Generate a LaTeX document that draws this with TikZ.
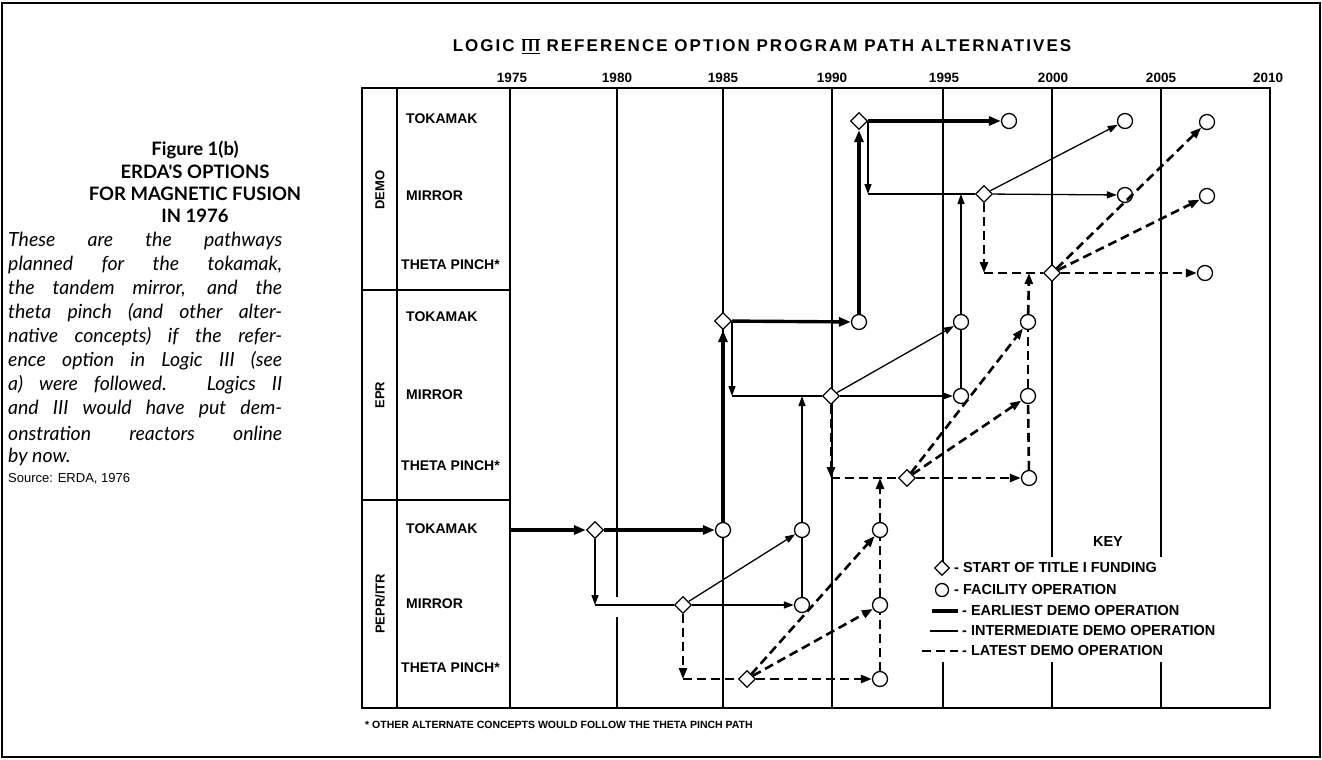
\documentclass[tikz,border=0pt]{standalone}
\usepackage{fontspec}
\setmainfont{Liberation Sans}
\newfontfamily\capfont{Lato}
\newfontfamily\titlefont[LetterSpace=12]{Liberation Sans}
\usetikzlibrary{arrows.meta,shapes.geometric}
\begin{document}
\begin{tikzpicture}[x=1pt,y=-1pt,
  gridline/.style={line width=1.1pt},
  boxline/.style={line width=2pt},
  rowlab/.style={font=\fontsize{14}{16}\selectfont\bfseries, anchor=west, inner sep=0},
  grplab/.style={font=\fontsize{13}{15}\selectfont\bfseries, rotate=90, inner sep=0},
  yrlab/.style={font=\fontsize{13.5}{15}\selectfont\bfseries, inner sep=0},
  keylab/.style={font=\fontsize{14.5}{16}\selectfont\bfseries, anchor=west, inner sep=0},
  dia/.style={diamond, draw, fill=white, line width=1.3pt, minimum width=17pt, minimum height=17pt, inner sep=0},
  circ/.style={circle, draw, fill=white, line width=1.3pt, minimum size=15pt, inner sep=0},
  early/.style={line width=3.4pt},
  inter/.style={line width=1.3pt},
  late/.style={line width=2.6pt, dash pattern=on 9pt off 5pt},
  tipE/.style={-{Triangle[length=12pt,width=9pt]}},
  tipI/.style={-{Triangle[length=10pt,width=7pt]}},
  tipL/.style={-{Triangle[length=11pt,width=8pt]}},
  caphead/.style={font=\capfont\fontsize{18.5}{22}\selectfont\bfseries, inner sep=0},
  capline/.style={font=\capfont\fontsize{19.5}{22}\selectfont\itshape, anchor=west, inner sep=0},
]
\useasboundingbox (0,0) rectangle (1322,760);
\draw[line width=1.5pt] (2,3) rectangle (1320,757);

% ---------- caption ----------
\node[caphead] (c1) at (195,150) {Figure 1(b)};
\node[caphead] (c2) at (195,172) {ERDA'S OPTIONS};
\node[caphead] (c3) at (195,194) {FOR MAGNETIC FUSION};
\node[caphead] (c4) at (195,216) {IN 1976};
\node[capline] (t1) at (8,241) {\makebox[274pt][s]{These are the pathways}};
\node[capline] (t2) at (8,265) {\makebox[274pt][s]{planned for the tokamak,}};
\node[capline] (t3) at (8,289) {\makebox[274pt][s]{the tandem mirror, and the}};
\node[capline] (t4) at (8,313) {\makebox[274pt][s]{theta pinch (and other alter-}};
\node[capline] (t5) at (8,337) {\makebox[274pt][s]{native concepts) if the refer-}};
\node[capline] (t6) at (8,361) {\makebox[274pt][s]{ence option in Logic III (see}};
\node[capline] (t7) at (8,385) {\makebox[274pt][s]{a) were followed. Logics II}};
\node[capline] (t8) at (8,409) {\makebox[274pt][s]{and III would have put dem-}};
\node[capline] (t9) at (8,433) {\makebox[274pt][s]{onstration reactors online}};
\node[capline] (t10) at (8,457) {by now.};
\node[anchor=west, inner sep=0, font=\fontsize{13}{15}\selectfont] (src) at (8,479) {Source: ERDA, 1976};

% ---------- title and years ----------
\node[inner sep=0, font=\titlefont\fontsize{17}{19}\selectfont\bfseries] (title) at (762,46)
  {LOGIC $\overline{\underline{\mbox{III}}}$ REFERENCE OPTION PROGRAM PATH ALTERNATIVES};
\node[yrlab] (y1975) at (512,78) {1975};
\node[yrlab] (y1980) at (617,78) {1980};
\node[yrlab] (y1985) at (723,78) {1985};
\node[yrlab] (y1990) at (832,78) {1990};
\node[yrlab] (y1995) at (944,78) {1995};
\node[yrlab] (y2000) at (1053,78) {2000};
\node[yrlab] (y2005) at (1161,78) {2005};
\node[yrlab] (y2010) at (1268,78) {2010};

% ---------- grid ----------
\draw[boxline] (362,88) rectangle (1270,708);
\draw[boxline] (397,88) -- (397,708);
\draw[line width=1.6pt] (510,88) -- (510,708);
\draw[boxline] (362,290) -- (510,290);
\draw[boxline] (362,500) -- (510,500);
\draw[gridline] (617,88) -- (617,597);
\draw[gridline] (617,617) -- (617,708);
\draw[gridline] (723,88) -- (723,708);
\draw[gridline] (832,88) -- (832,708);
\draw[gridline] (943,88) -- (943,562);
\draw[gridline] (943,662) -- (943,708);
\draw[gridline] (1052,88) -- (1052,557);
\draw[gridline] (1052,662) -- (1052,708);
\draw[gridline] (1161,88) -- (1161,557);
\draw[gridline] (1161,662) -- (1161,708);

% ---------- row labels ----------
\node[grplab] (gD) at (380,190) {DEMO};
\node[grplab] (gE) at (380,395) {EPR};
\node[grplab] (gP) at (380,604) {PEPR/ITR};
\node[rowlab] (rDT) at (406,119) {TOKAMAK};
\node[rowlab] (rDM) at (406,196) {MIRROR};
\node[rowlab] (rDP) at (401,265) {THETA PINCH*};
\node[rowlab] (rET) at (406,317) {TOKAMAK};
\node[rowlab] (rEM) at (406,395) {MIRROR};
\node[rowlab] (rEP) at (401,466) {THETA PINCH*};
\node[rowlab] (rPT) at (406,529) {TOKAMAK};
\node[rowlab] (rPM) at (406,604) {MIRROR};
\node[rowlab] (rPP) at (401,668) {THETA PINCH*};

% ---------- nodes ----------
\node[dia] (p1) at (595,530) {};
\node[circ] (pc1) at (723,530) {};
\node[circ] (pc2) at (802,530) {};
\node[circ] (pc3) at (880,530) {};
\node[dia] (p2) at (683,605) {};
\node[circ] (pc4) at (802,605) {};
\node[circ] (pc5) at (880,605) {};
\node[dia] (p3) at (747,679) {};
\node[circ] (pc6) at (880,679) {};
\node[dia] (e1) at (723,321) {};
\node[circ] (ec1) at (859,322) {};
\node[circ] (ec2) at (961,322) {};
\node[circ] (ec3) at (1028,322) {};
\node[dia] (e2) at (831,396) {};
\node[circ] (ec4) at (961,396) {};
\node[circ] (ec5) at (1028,396) {};
\node[dia] (e3) at (907,478) {};
\node[circ] (ec6) at (1029,478) {};
\node[dia] (d1) at (859,121) {};
\node[circ] (dc1) at (1009,121) {};
\node[circ] (dc2) at (1125,121) {};
\node[circ] (dc3) at (1207,122) {};
\node[dia] (d2) at (984,194) {};
\node[circ] (dc4) at (1125,195) {};
\node[circ] (dc5) at (1207,196) {};
\node[dia] (d3) at (1052,273) {};
\node[circ] (dc6) at (1205,273) {};

\coordinate (pstart) at (511,530);
\coordinate (pk1) at (595,605);
\coordinate (pk2) at (683,679);
\coordinate (ek1) at (732,396);
\coordinate (ek2) at (802,396);
\coordinate (ek3) at (880,478);
\coordinate (ek4) at (831,478);
\coordinate (dk1) at (868,194);
\coordinate (dk2) at (961,194);
\coordinate (dk3) at (1029,273);
\coordinate (dk4) at (984,273);

% ---------- earliest ----------
\draw[early,tipE] (pstart) -- (p1);
\draw[early,tipE] (p1) -- (pc1);
\draw[early,tipE] (pc1) -- (e1);
\draw[early,tipE] (e1) -- (ec1);
\draw[early,tipE] (ec1) -- (d1);
\draw[early,tipE] (d1) -- (dc1);

% ---------- intermediate ----------
\draw[inter,tipI] (p1) -- (pk1);
\draw[inter] (pk1) -- (p2);
\draw[inter,tipI] (p2) -- (pc2);
\draw[inter,tipI] (p2) -- (pc4);
\draw[inter] (pc4) -- (pc2);
\draw[inter,tipI] (pc2) -- (ek2);
\draw[inter,tipI] (e1.east -| ek1) -- (ek1);
\draw[inter] (ek1) -- (e2);
\draw[inter,tipI] (e2) -- (ec2);
\draw[inter,tipI] (e2) -- (ec4);
\draw[inter] (ec4) -- (ec2);
\draw[inter,tipI] (ec2) -- (dk2);
\draw[inter,tipI] (d1.east -| dk1) -- (dk1);
\draw[inter] (dk1) -- (d2);
\draw[inter,tipI] (d2) -- (dc2);
\draw[inter,tipI] (d2) -- (dc4);

% ---------- latest ----------
\draw[late,tipL] (p2) -- (pk2);
\draw[late] (pk2) -- (p3);
\draw[late,tipL] (p3) -- (pc3);
\draw[late,tipL] (p3) -- (pc5);
\draw[late,tipL] (p3) -- (pc6);
\draw[late] (pc6) -- (pc5);
\draw[late] (pc5) -- (pc3);
\draw[late,tipL] (pc3) -- (ek3);
\draw[late,tipL] (e2) -- (ek4);
\draw[late] (ek4) -- (e3);
\draw[late,tipL] (e3) -- (ec3);
\draw[late,tipL] (e3) -- (ec5);
\draw[late,tipL] (e3) -- (ec6);
\draw[late] (ec6) -- (ec5);
\draw[late] (ec5) -- (ec3);
\draw[late,tipL] (ec3) -- (dk3);
\draw[late,tipL] (d2) -- (dk4);
\draw[late] (dk4) -- (d3);
\draw[late,tipL] (d3) -- (dc3);
\draw[late,tipL] (d3) -- (dc5);
\draw[late,tipL] (d3) -- (dc6);

% ---------- key ----------
\node[font=\fontsize{14.5}{16}\selectfont\bfseries, inner sep=0] (key) at (1108,542) {KEY};
\node[dia, minimum width=15pt, minimum height=15pt] (kd) at (942,568) {};
\node[keylab] (k1) at (954,568) {- START OF TITLE I FUNDING};
\node[circ, minimum size=13pt] (kc) at (942,590) {};
\node[keylab] (k2) at (954,590) {- FACILITY OPERATION};
\node[keylab] (k3) at (962,611) {- EARLIEST DEMO OPERATION};
\node[keylab] (k4) at (962,631) {- INTERMEDIATE DEMO OPERATION};
\node[keylab] (k5) at (962,651) {- LATEST DEMO OPERATION};
\coordinate (kl3) at (932,611);
\coordinate (kl4) at (930,631);
\coordinate (kl5) at (922,651);
\draw[early] (kl3) -- ([xshift=-4pt]k3.west);
\draw[inter] (kl4) -- ([xshift=-4pt]k4.west);
\draw[late] (kl5) -- ([xshift=-4pt]k5.west);

% ---------- footnote ----------
\node[anchor=west, inner sep=0, font=\fontsize{10.5}{12}\selectfont\bfseries] (fn) at (365,725)
  {* OTHER ALTERNATE CONCEPTS WOULD FOLLOW THE THETA PINCH PATH};
\end{tikzpicture}
\end{document}
